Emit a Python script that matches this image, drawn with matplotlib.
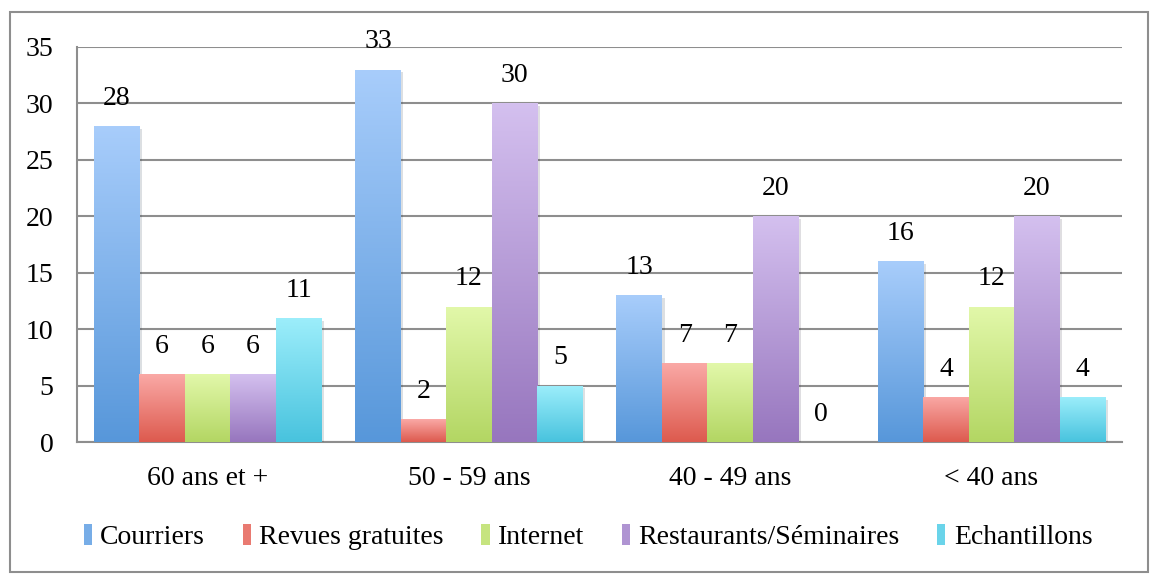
import numpy as np
import matplotlib.pyplot as plt
from matplotlib.colors import LinearSegmentedColormap
from matplotlib.patches import Rectangle
import matplotlib.patheffects as pe

# données du graphique
categories = ['60 ans et +', '50 - 59 ans', '40 - 49 ans', '< 40 ans']
series = ['Courriers', 'Revues gratuites', 'Internet', 'Restaurants/Séminaires', 'Echantillons']
courriers = [28, 33, 13, 16]
revues = [6, 2, 7, 4]
internet = [6, 12, 7, 12]
restaurants = [6, 30, 20, 20]
echantillons = [11, 5, 0, 4]

values = [courriers, revues, internet, restaurants, echantillons]
# dégradé : haut clair, bas foncé
top_colors = ['#A8CDFB', '#FAA9A6', '#E2F8AA', '#D4C0EF', '#9DEEFB']
bottom_colors = ['#5797DA', '#DD5A4E', '#B3D663', '#9776BE', '#48C3DE']
grid_color = '#8E8E8E'
fs = 20

plt.rcParams['font.family'] = ['Liberation Serif', 'DejaVu Serif']

fig = plt.figure(figsize=(11.51, 5.75), dpi=100)
ax = fig.add_axes([77 / 1151, 133 / 575, 1045 / 1151, 395 / 575])

x = np.arange(len(categories))
width = 0.174
grad = np.linspace(0, 1, 256).reshape(-1, 1)
handles = []
for i, (name, vals) in enumerate(zip(series, values)):
    offs = (i - 2) * width
    bars = ax.bar(x + offs, vals, width, color=bottom_colors[i], linewidth=0, zorder=3,
                  path_effects=[pe.SimplePatchShadow(offset=(2, -2), alpha=0.15), pe.Normal()])
    cmap = LinearSegmentedColormap.from_list(name, [bottom_colors[i], top_colors[i]])
    for b, v in zip(bars, vals):
        x0 = b.get_x()
        if v > 0:
            im = ax.imshow(grad, cmap=cmap, origin='lower', aspect='auto',
                           extent=[x0, x0 + width, 0, v], zorder=3.1)
            im.set_clip_path(b)
        ax.annotate(str(v), (x0 + width / 2, v), xytext=(0, 11), textcoords='offset points',
                    ha='center', va='bottom', fontsize=fs)
    handles.append(Rectangle((0, 0), 1, 1, facecolor=cmap(0.4)))

ax.set_xlim(-0.5, 3.5)
ax.set_ylim(0, 35)
ax.set_yticks(range(0, 36, 5))
ax.set_xticks(x)
ax.set_xticklabels(categories)
ax.tick_params(length=0, labelsize=fs)
ax.tick_params(axis='y', pad=17)
ax.tick_params(axis='x', pad=17)
ax.yaxis.grid(True, color=grid_color, linewidth=1.5, zorder=0)
ax.set_axisbelow(True)
for s in ['top', 'right']:
    ax.spines[s].set_visible(False)
for s in ['left', 'bottom']:
    ax.spines[s].set_color(grid_color)
    ax.spines[s].set_linewidth(1.5)

fig.legend(handles, series, loc='center', bbox_to_anchor=(588 / 1151, 38 / 575), ncol=5,
           frameon=False, fontsize=fs, handlelength=0.3, handleheight=0.8,
           handletextpad=0.3, columnspacing=1.35)

# cadre extérieur
fig.add_artist(Rectangle((10 / 1151, 3 / 575), 1138 / 1151, 560 / 575, transform=fig.transFigure,
                         fill=False, edgecolor=grid_color, linewidth=1.5))

plt.savefig('out.png', dpi=100)
